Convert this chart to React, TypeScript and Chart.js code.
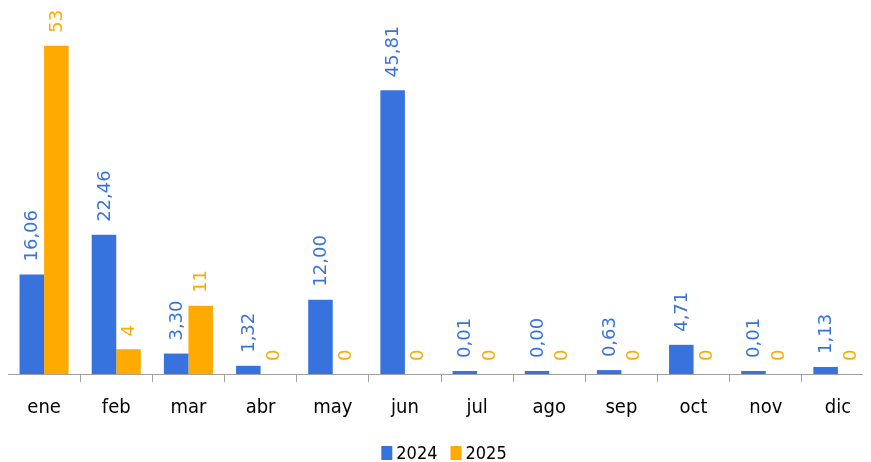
import React, { useEffect, useRef } from "react";
import { Chart, registerables } from "chart.js";

Chart.register(...registerables);

const months = ["ene", "feb", "mar", "abr", "may", "jun", "jul", "ago", "sep", "oct", "nov", "dic"];
const values2024 = [16.06, 22.46, 3.3, 1.32, 12.0, 45.81, 0.01, 0.0, 0.63, 4.71, 0.01, 1.13];
const values2025 = [53, 4, 11, 0, 0, 0, 0, 0, 0, 0, 0, 0];
const seriesNames = ["2024", "2025"];
const decimals = [2, 0];

const BLUE = "#3873DD";
const ORANGE = "#FFAA00";
const AXIS = "#A0A0A0";
const NARROW = "'DejaVu Sans Condensed', sans-serif";

const labelPlugin = {
  id: "rotLabels",
  afterDatasetsDraw(chart: any) {
    const ctx = chart.ctx;
    chart.data.datasets.forEach((ds: any, di: number) => {
      const meta = chart.getDatasetMeta(di);
      meta.data.forEach((el: any, i: number) => {
        const v = ds.data[i];
        const txt = v.toFixed(decimals[di]).replace(".", ",");
        ctx.save();
        ctx.translate(el.x + 1, el.y - 13);
        ctx.rotate(-Math.PI / 2);
        ctx.fillStyle = ds.backgroundColor;
        ctx.font = "18px 'DejaVu Sans', sans-serif";
        ctx.textAlign = "left";
        ctx.textBaseline = "middle";
        ctx.fillText(txt, 0, 0);
        ctx.restore();
      });
    });
  },
};

const legendPlugin = {
  id: "customLegend",
  afterDraw(chart: any) {
    const ctx = chart.ctx;
    const boxW = 11;
    const boxH = 14;
    const gap = 4;
    const itemGap = 13;
    ctx.save();
    ctx.font = "18px " + NARROW;
    const items = chart.data.datasets.map((ds: any) => ({
      text: ds.label,
      color: ds.backgroundColor,
      w: boxW + gap + ctx.measureText(ds.label).width,
    }));
    const total = items.reduce((s: number, it: any) => s + it.w, 0) + itemGap * (items.length - 1);
    let x = 436 - total / 2;
    const cy = 445;
    items.forEach((it: any) => {
      ctx.fillStyle = it.color;
      ctx.fillRect(x, cy - boxH / 2, boxW, boxH);
      ctx.fillStyle = "#000";
      ctx.textAlign = "left";
      ctx.textBaseline = "middle";
      ctx.fillText(it.text, x + boxW + gap, cy + 1);
      x += it.w + itemGap;
    });
    ctx.restore();
  },
};

export default function App() {
  const ref = useRef<HTMLCanvasElement | null>(null);
  useEffect(() => {
    document.documentElement.style.overflow = "hidden";
    document.body.style.overflow = "hidden";
    const chart = new Chart(ref.current!, {
      type: "bar",
      data: {
        labels: months,
        datasets: [
          { label: seriesNames[0], data: values2024, backgroundColor: BLUE, categoryPercentage: 0.68, barPercentage: 1, minBarLength: 3 },
          { label: seriesNames[1], data: values2025, backgroundColor: ORANGE, categoryPercentage: 0.68, barPercentage: 1 },
        ],
      },
      options: {
        responsive: false,
        animation: false,
        layout: { padding: { top: 0, left: 0, right: 0, bottom: 28 } },
        plugins: {
          tooltip: { enabled: false },
          legend: { display: false },
        },
        scales: {
          x: {
            grid: { display: true, drawOnChartArea: false, drawTicks: true, tickLength: 8, color: AXIS, offset: true },
            border: { display: true, color: AXIS, width: 1 },
            ticks: { color: "#000", font: { family: NARROW, size: 20 }, padding: 14 },
          },
          y: { display: false, min: 0, max: 59.08 },
        },
      },
      plugins: [labelPlugin, legendPlugin],
    });
    return () => chart.destroy();
  }, []);
  return (
    <div style={{ width: 866, height: 454 }}>
      <canvas ref={ref} width={866} height={454} />
    </div>
  );
}
